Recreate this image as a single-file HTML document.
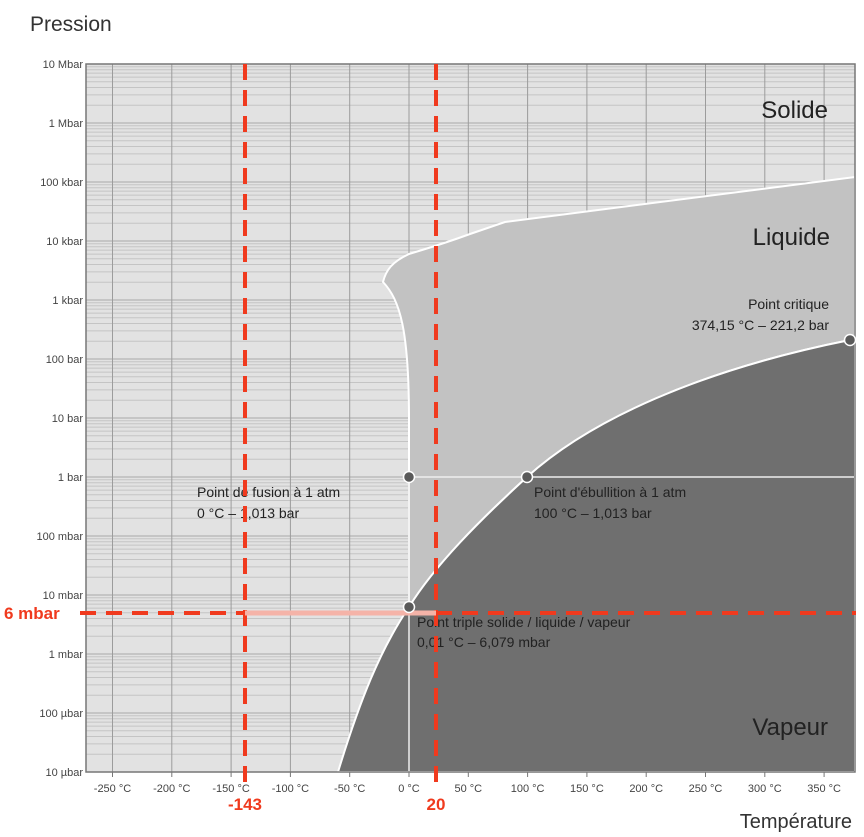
<!DOCTYPE html>
<html><head><meta charset="utf-8"><style>
html,body{margin:0;padding:0;background:#fff;}
svg{display:block;font-family:"Liberation Sans",Arial,sans-serif;}
</style></head><body>
<svg id="s" width="864" height="837" viewBox="0 0 864 837" xmlns="http://www.w3.org/2000/svg">
<rect width="864" height="837" fill="#fff"/>
<text x="30" y="31" font-size="21" fill="#333">Pression</text>
<text x="852" y="828" font-size="20" fill="#333" text-anchor="end">Température</text>
<rect x="86" y="64" width="769" height="708" fill="#e2e2e2"/>
<g id="grid"></g>
<!-- liquid region -->
<path d="M409,607 L409,420 C409,330 400,300 383,282 C386,270 392,262 409,254 C425,249 440,245 470,234 L505,222 L855,177 L855,339 L850,340 C700,370 590,420 527,477 C480,520 435,565 409,607 Z" fill="#c2c2c2" stroke="#fff" stroke-width="2"/>
<!-- vapour region -->
<path d="M338,772 C360,700 380,650 409,607 C435,565 480,520 527,477 C590,420 700,370 850,340 L855,339 L855,772 Z" fill="#6f6f6f" stroke="#fff" stroke-width="2"/>
<line x1="409" y1="477" x2="855" y2="477" stroke="#eee" stroke-width="1.5"/>
<line x1="409" y1="477" x2="409" y2="772" stroke="#eee" stroke-width="1.5"/>
<rect x="86" y="64" width="769" height="708" fill="none" stroke="#777" stroke-width="1.5"/>
<g id="ticks" font-size="11" fill="#444"></g>
<text x="828" y="118" font-size="24" fill="#222" text-anchor="end">Solide</text>
<text x="830" y="245" font-size="24" fill="#222" text-anchor="end">Liquide</text>
<text x="828" y="735" font-size="24" fill="#222" text-anchor="end">Vapeur</text>
<g font-size="14" fill="#222">
<text x="829" y="309" text-anchor="end">Point critique</text>
<text x="829" y="330" text-anchor="end">374,15 °C –  221,2 bar</text>
<text x="197" y="497">Point de fusion à 1 atm</text>
<text x="197" y="518">0 °C – 1,013 bar</text>
<text x="534" y="497">Point d'ébullition à 1 atm</text>
<text x="534" y="518">100 °C – 1,013 bar</text>
<text x="417" y="627">Point triple solide / liquide / vapeur</text>
<text x="417" y="647">0,01 °C – 6,079 mbar</text>
</g>
<g stroke="#f03a1e" stroke-width="4" stroke-dasharray="16,10" fill="none">
<line x1="245" y1="64" x2="245" y2="782"/>
<line x1="436" y1="64" x2="436" y2="782"/>
<line x1="80" y1="613" x2="245" y2="613"/>
<line x1="436" y1="613" x2="856" y2="613"/>
</g>
<line x1="245" y1="613" x2="436" y2="613" stroke="#f5b3a8" stroke-width="5"/>
<g fill="#5a5a5a" stroke="#fff" stroke-width="1.5">
<circle cx="409" cy="607" r="5.5"/><circle cx="409" cy="477" r="5.5"/><circle cx="527" cy="477" r="5.5"/><circle cx="850" cy="340" r="5.5"/>
</g>
<g fill="#f03a1e" font-weight="bold" font-size="17">
<text x="4" y="619">6  mbar</text>
<text x="245" y="810" text-anchor="middle">-143</text>
<text x="436" y="810" text-anchor="middle">20</text>
</g>
</svg>
<script>
var NS="http://www.w3.org/2000/svg",g=document.getElementById("grid"),t=document.getElementById("ticks");
function el(p,n,a,txt){var e=document.createElementNS(NS,n);for(var k in a)e.setAttribute(k,a[k]);if(txt)e.textContent=txt;p.appendChild(e);return e;}
var labs=["10 Mbar","1 Mbar","100 kbar","10 kbar","1 kbar","100 bar","10 bar","1 bar","100 mbar","10 mbar","1 mbar","100 µbar","10 µbar"];
var d=59;
for(var i=0;i<12;i++){var y0=64+i*d;
 for(var k=2;k<10;k++){var y=y0+d*(1-Math.log10(k));el(g,"line",{x1:86,x2:855,y1:y,y2:y,stroke:"#c4c4c4","stroke-width":1});}
}
for(var i=0;i<13;i++){var y=64+i*d;el(g,"line",{x1:86,x2:855,y1:y,y2:y,stroke:"#a8a8a8","stroke-width":1});
 el(t,"text",{x:83,y:y+4,"text-anchor":"end"},labs[i]);}
for(var T=-250;T<=350;T+=50){var x=409+T*1.186;el(g,"line",{x1:x,x2:x,y1:64,y2:772,stroke:"#9c9c9c","stroke-width":1});
 el(t,"line",{x1:x,x2:x,y1:772,y2:777,stroke:"#777"});
 el(t,"text",{x:x,y:792,"text-anchor":"middle"},T+" °C");}
</script>
</body></html>
